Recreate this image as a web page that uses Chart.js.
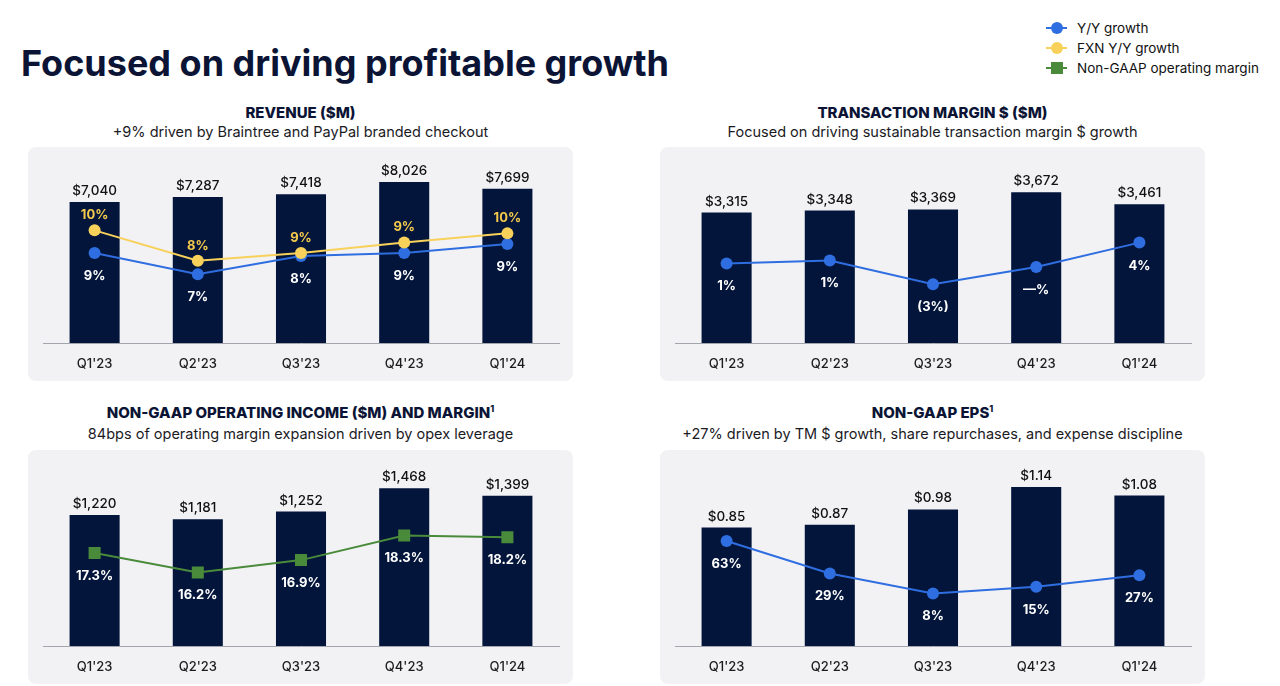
<!DOCTYPE html>
<html>
<head>
<meta charset="utf-8">
<script src="https://cdn.jsdelivr.net/npm/chart.js@4.4.1/dist/chart.umd.min.js"></script>
<style>
  html,body{margin:0;padding:0;}
  body{width:1280px;height:686px;background:#ffffff;position:relative;overflow:hidden;font-family:Inter,"Noto Sans",sans-serif;}
  #title{position:absolute;left:21px;top:45px;font-size:36px;line-height:36px;font-weight:700;color:#0b1435;white-space:nowrap;letter-spacing:0px;}
  .ptitle{position:absolute;width:545px;text-align:center;font-weight:800;font-size:15px;line-height:15px;color:#0b1435;white-space:nowrap;}
  .ptitle sup{font-size:9px;vertical-align:6px;line-height:0;}
  .psub{position:absolute;width:545px;text-align:center;font-size:14.5px;line-height:15px;color:#1b1b1f;white-space:nowrap;}
  .box{position:absolute;width:545px;height:234px;background:#f2f2f5;border-radius:8px;}
  .box canvas{position:absolute;left:0;top:0;}
  .leg{position:absolute;left:1046px;height:16px;width:230px;}
  .leg .ln{position:absolute;left:0;top:7px;width:21px;height:2px;}
  .leg .mk{position:absolute;left:5px;top:2px;width:12px;height:12px;}
  .leg .dot{border-radius:50%;}
  .leg span{position:absolute;left:31px;top:0;font-size:13.5px;line-height:16px;color:#111;white-space:nowrap;}
</style>
</head>
<body>
<div id="title">Focused on driving profitable growth</div>

<div class="leg" style="top:20px"><i class="ln" style="background:#2f6ee0"></i><i class="mk dot" style="background:#2f6ee0"></i><span>Y/Y growth</span></div>
<div class="leg" style="top:40px"><i class="ln" style="background:#f7d15a"></i><i class="mk dot" style="background:#f7d15a"></i><span>FXN Y/Y growth</span></div>
<div class="leg" style="top:60px"><i class="ln" style="background:#4a8b3b"></i><i class="mk" style="background:#4a8b3b"></i><span>Non-GAAP operating margin</span></div>

<div class="ptitle" style="left:28px;top:105px">REVENUE ($M)</div>
<div class="psub" style="left:28px;top:124px">+9% driven by Braintree and PayPal branded checkout</div>
<div class="box" style="left:28px;top:147px"><canvas id="c1" width="545" height="234"></canvas></div>

<div class="ptitle" style="left:660px;top:105px">TRANSACTION MARGIN $ ($M)</div>
<div class="psub" style="left:660px;top:124px">Focused on driving sustainable transaction margin $ growth</div>
<div class="box" style="left:660px;top:147px"><canvas id="c2" width="545" height="234"></canvas></div>

<div class="ptitle" style="left:28px;top:405px">NON-GAAP OPERATING INCOME ($M) AND MARGIN<sup>1</sup></div>
<div class="psub" style="left:28px;top:426px">84bps of operating margin expansion driven by opex leverage</div>
<div class="box" style="left:28px;top:450px"><canvas id="c3" width="545" height="234"></canvas></div>

<div class="ptitle" style="left:660px;top:405px">NON-GAAP EPS<sup>1</sup></div>
<div class="psub" style="left:660px;top:426px">+27% driven by TM $ growth, share repurchases, and expense discipline</div>
<div class="box" style="left:660px;top:450px"><canvas id="c4" width="545" height="234"></canvas></div>

<script>
// ---------- data ----------
const quarters = ["Q1'23", "Q2'23", "Q3'23", "Q4'23", "Q1'24"];

const revenue = [7040, 7287, 7418, 8026, 7699];
const revenueText = ["$7,040", "$7,287", "$7,418", "$8,026", "$7,699"];
const revenueYoY = [8.8, 7.4, 8.6, 8.8, 9.4];
const revenueYoYText = ["9%", "7%", "8%", "9%", "9%"];
const revenueFxn = [10.3, 8.3, 8.8, 9.5, 10.1];
const revenueFxnText = ["10%", "8%", "9%", "9%", "10%"];

const tmDollars = [3315, 3348, 3369, 3672, 3461];
const tmText = ["$3,315", "$3,348", "$3,369", "$3,672", "$3,461"];
const tmYoY = [0.5, 1.0, -3.0, -0.1, 4.0];
const tmYoYText = ["1%", "1%", "(3%)", "\u2014%", "4%"];

const opIncome = [1220, 1181, 1252, 1468, 1399];
const opIncomeText = ["$1,220", "$1,181", "$1,252", "$1,468", "$1,399"];
const opMargin = [17.3, 16.2, 16.9, 18.3, 18.2];
const opMarginText = ["17.3%", "16.2%", "16.9%", "18.3%", "18.2%"];

const eps = [0.85, 0.87, 0.98, 1.14, 1.08];
const epsText = ["$0.85", "$0.87", "$0.98", "$1.14", "$1.08"];
const epsYoY = [63, 29, 8, 15, 27];
const epsYoYText = ["63%", "29%", "8%", "15%", "27%"];

// ---------- styles ----------
const FONT = 'Inter, "Noto Sans", sans-serif';
const NAVY = '#03153a';
const BLUE = '#2f6ee0';
const YELLOW = '#f7d15a';
const YELLOW_TXT = '#f5cb4d';
const GREEN = '#4a8b3b';

Chart.defaults.font.family = FONT;

function makeChart(id, bars, barText, yRange, lines, y1Range) {
  const labelPlugin = {
    id: 'valueLabels' + id,
    afterDatasetsDraw(chart) {
      const ctx = chart.ctx;
      ctx.save();
      ctx.textAlign = 'center';
      ctx.textBaseline = 'middle';
      const barMeta = chart.getDatasetMeta(lines.length);
      ctx.font = '500 13.5px ' + FONT;
      ctx.fillStyle = '#111111';
      barMeta.data.forEach((el, i) => ctx.fillText(barText[i], el.x, el.y - 11));
      lines.forEach((l, k) => {
        const m = chart.getDatasetMeta(k);
        ctx.font = '700 13px ' + FONT;
        ctx.fillStyle = l.textColor;
        m.data.forEach((el, i) => ctx.fillText(l.text[i], el.x, el.y + l.dy));
      });
      ctx.restore();
    }
  };
  const datasets = lines.map(l => ({
    type: 'line',
    data: l.data,
    yAxisID: 'y1',
    borderColor: l.color,
    backgroundColor: l.color,
    borderWidth: 2,
    pointStyle: l.style,
    pointRadius: l.radius,
    pointBorderWidth: 0,
    pointBackgroundColor: l.color,
    tension: 0,
    order: 0
  }));
  datasets.push({
    type: 'bar',
    data: bars,
    yAxisID: 'y',
    backgroundColor: NAVY,
    barPercentage: 0.485,
    categoryPercentage: 1,
    order: 1
  });
  new Chart(document.getElementById(id), {
    type: 'bar',
    data: { labels: quarters, datasets },
    options: {
      responsive: false,
      animation: false,
      events: [],
      layout: { padding: { top: 20, left: 15, right: 14, bottom: 0 } },
      plugins: { legend: { display: false }, tooltip: { enabled: false } },
      scales: {
        x: {
          grid: { display: false, drawTicks: false },
          border: { display: true, color: '#a3a5ad', width: 1 },
          ticks: { padding: 13, color: '#1c1c1c', font: { family: FONT, size: 13, weight: '500' } },
          afterFit(a) { a.height = 38; }
        },
        y: { display: false, min: yRange[0], max: yRange[1] },
        y1: { display: false, min: y1Range[0], max: y1Range[1] }
      }
    },
    plugins: [labelPlugin]
  });
}

makeChart('c1', revenue, revenueText, [0, 8780], [
  { data: revenueFxn, text: revenueFxnText, color: YELLOW, textColor: YELLOW_TXT, style: 'circle', radius: 6, dy: -15 },
  { data: revenueYoY, text: revenueYoYText, color: BLUE, textColor: '#ffffff', style: 'circle', radius: 6, dy: 23 }
], [2.865, 14.48]);

makeChart('c2', tmDollars, tmText, [1000, 4121], [
  { data: tmYoY, text: tmYoYText, color: BLUE, textColor: '#ffffff', style: 'circle', radius: 6, dy: 23 }
], [-12.9, 16.73]);

makeChart('c3', opIncome, opIncomeText, [0, 1639], [
  { data: opMargin, text: opMarginText, color: GREEN, textColor: '#ffffff', style: 'rect', radius: 8.5, dy: 23 }
], [12.01, 22.03]);

makeChart('c4', eps, epsText, [0, 1.2626], [
  { data: epsYoY, text: epsYoYText, color: BLUE, textColor: '#ffffff', style: 'circle', radius: 6, dy: 23 }
], [-47, 137.3]);
</script>
</body>
</html>
